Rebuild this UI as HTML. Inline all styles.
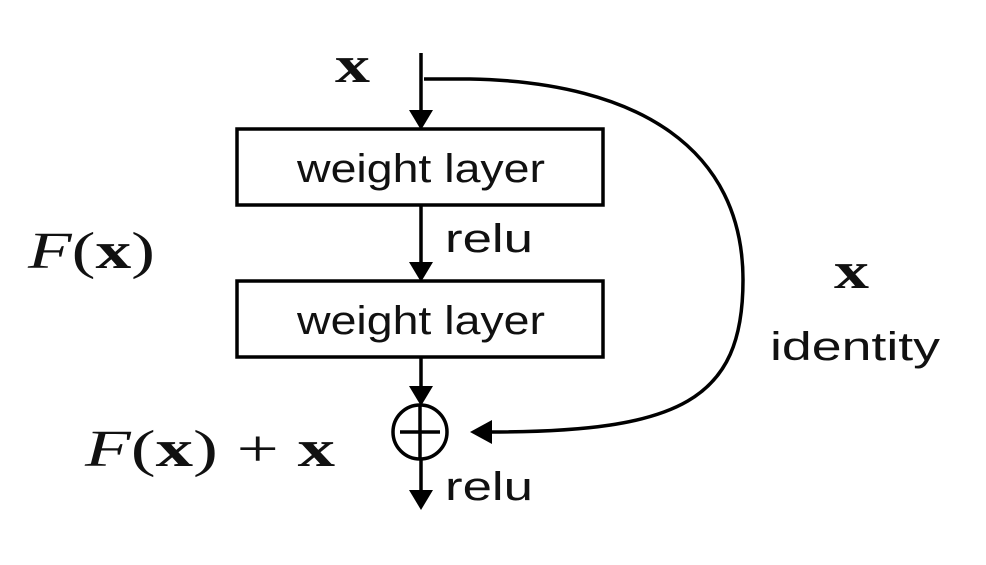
<!DOCTYPE html>
<html><head><meta charset="utf-8"><style>
body{margin:0;background:#fff;width:986px;height:560px;overflow:hidden}
svg text{fill:#111}
.s{font-family:"Liberation Sans","DejaVu Sans",sans-serif;font-size:40px}
.m{font-family:"Liberation Serif","DejaVu Serif",serif;font-size:52px}
</style></head><body>
<svg width="986" height="560" viewBox="0 0 986 560" xmlns="http://www.w3.org/2000/svg">
<g stroke="#000" stroke-width="3.5" fill="none">
<line x1="421" y1="53" x2="421" y2="112"/>
<rect x="237" y="129" width="366" height="76" fill="#fff"/>
<line x1="421" y1="205" x2="421" y2="264"/>
<rect x="237" y="281" width="366" height="76" fill="#fff"/>
<line x1="421" y1="357" x2="421" y2="388"/>
<circle cx="420" cy="432" r="27"/>
<line x1="420" y1="405" x2="420" y2="459"/>
<line x1="400" y1="432" x2="440" y2="432"/>
<line x1="421" y1="459" x2="421" y2="492"/>
<path d="M424 79 L470 79 C640 82 743 150 743 280 C743 400 680 432 490 432"/>
</g>
<g fill="#000">
<polygon points="409,110 433,110 421,130"/>
<polygon points="409,262 433,262 421,282"/>
<polygon points="409,386 433,386 421,406"/>
<polygon points="409,490 433,490 421,510"/>
<polygon points="492,420 492,444 470,432"/>
</g>
<text class="s" x="297" y="182" textLength="248" lengthAdjust="spacingAndGlyphs">weight layer</text>
<text class="s" x="297" y="334" textLength="248" lengthAdjust="spacingAndGlyphs">weight layer</text>
<text class="s" x="445" y="252" textLength="88" lengthAdjust="spacingAndGlyphs">relu</text>
<text class="s" x="445" y="500" textLength="88" lengthAdjust="spacingAndGlyphs">relu</text>
<text class="s" x="770" y="360" textLength="170" lengthAdjust="spacingAndGlyphs">identity</text>
<text class="m" x="335" y="82" font-weight="bold" textLength="35" lengthAdjust="spacingAndGlyphs">x</text>
<text class="m" x="834" y="288" font-weight="bold" textLength="35" lengthAdjust="spacingAndGlyphs">x</text>
<text class="m" x="28" y="268" textLength="127" lengthAdjust="spacingAndGlyphs"><tspan font-style="italic">F</tspan>(<tspan font-weight="bold">x</tspan>)</text>
<text class="m" x="85" y="466" textLength="250" lengthAdjust="spacingAndGlyphs"><tspan font-style="italic">F</tspan>(<tspan font-weight="bold">x</tspan>) + <tspan font-weight="bold">x</tspan></text>
</svg>
</body></html>
